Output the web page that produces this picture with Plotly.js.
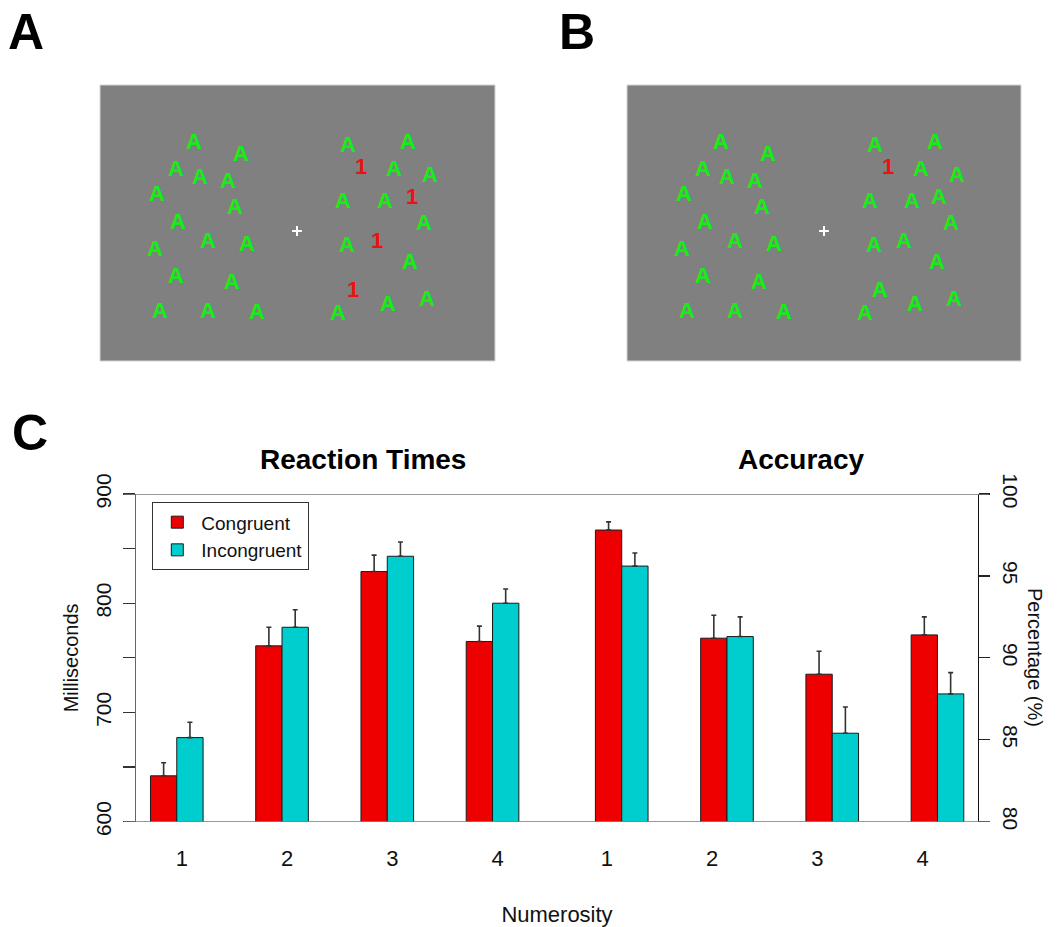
<!DOCTYPE html>
<html><head><meta charset="utf-8">
<script src="https://cdn.plot.ly/plotly-3.0.1.min.js"></script>
<style>html,body{margin:0;padding:0;background:#fff}#chart{width:1059px;height:927px}</style>
</head><body><div id="chart"></div>
<script>
// ---------------- data ----------------
const numerosity = ['1', '2', '3', '4'];
const conditionNames = ['Congruent', 'Incongruent'];

const rtCongruent      = [642, 761, 829, 765];
const rtCongruentSE    = [12, 17, 15, 14];
const rtIncongruent    = [677, 778, 843, 800];
const rtIncongruentSE  = [14, 16, 13, 13];

const accCongruent     = [97.8, 91.2, 89.0, 91.4];
const accCongruentSE   = [0.5, 1.4, 1.4, 1.1];
const accIncongruent   = [95.6, 91.3, 85.4, 87.8];
const accIncongruentSE = [0.8, 1.2, 1.6, 1.3];

const msTicks      = [600, 650, 700, 750, 800, 850, 900];
const msTickLabels = ['600', '', '700', '', '800', '', '900'];
const pctTicks     = [80, 85, 90, 95, 100];
const pctTickLabels = ['80', '85', '90', '95', '100'];

// stimulus displays (screen units of the 395 x 276 stimulus picture)
const leftSetX  = [94, 141, 76, 100, 128, 57, 135, 78, 55, 108, 147, 76, 132, 60, 108, 157];
const leftSetY  = [58, 70, 85, 93, 97, 110, 123, 138, 165, 157, 160, 192, 198, 227, 227, 228];
const leftSetLabels = ['A','A','A','A','A','A','A','A','A','A','A','A','A','A','A','A'];
const rightSetX = [248, 308, 261, 294, 330, 243, 285, 312, 324, 247, 277, 310, 253, 238, 288, 327];
const rightSetY = [61, 58, 83, 85, 91, 117, 117, 113, 139, 161, 157, 178, 206, 229, 220, 215];
const rightLabelsA = ['A','A','1','A','A','A','A','1','A','A','1','A','1','A','A','A'];
const rightLabelsB = ['A','A','1','A','A','A','A','A','A','A','A','A','A','A','A','A'];
const fixationX = [197];
const fixationY = [146];

// ---------------- layout helpers ----------------
const W = 1059, H = 927;
const fx = p => p / W;
const fy = p => 1 - p / H;
const FONT = 'Liberation Sans, Arial, Helvetica, sans-serif';
const RED = '#EE0000', CYAN = '#00CDCD';
const GREEN = '#14EE14', STIM_RED = '#EE1111';

// bar geometry in bar-width units along x
const leftCenter  = numerosity.map((_, i) => 1.55 + 4 * i);
const rightCenter = numerosity.map((_, i) => 18.46 + 4 * i);
const tickPos = numerosity.map((_, i) => 1.74 + 4 * i)
  .concat(numerosity.map((_, i) => 17.9 + 4 * i));

function barTrace(xs, ys, se, color, name, yaxis, showlegend) {
  return {
    type: 'bar', x: xs, y: ys, width: 1, name: name, yaxis: yaxis, xaxis: 'x',
    showlegend: showlegend, legendgroup: name,
    marker: {color: color, line: {color: '#1a1a1a', width: 1}},
    error_y: {type: 'data', symmetric: false, array: se, arrayminus: se.map(() => 0),
              color: '#333', thickness: 1.6, width: 2.5},
    hoverinfo: 'y+name'
  };
}

const traces = [
  barTrace(leftCenter.map(c => c - 0.5), rtCongruent, rtCongruentSE, RED, conditionNames[0], 'y', true),
  barTrace(leftCenter.map(c => c + 0.5), rtIncongruent, rtIncongruentSE, CYAN, conditionNames[1], 'y', true),
  barTrace(rightCenter.map(c => c - 0.5), accCongruent, accCongruentSE, RED, conditionNames[0], 'y2', false),
  barTrace(rightCenter.map(c => c + 0.5), accIncongruent, accIncongruentSE, CYAN, conditionNames[1], 'y2', false)
];

function stimText(xs, ys, labels, xa, ya) {
  return {
    type: 'scatter', mode: 'text', x: xs, y: ys, text: labels, xaxis: xa, yaxis: ya,
    showlegend: false, hoverinfo: 'skip', textposition: 'middle center',
    textfont: {family: FONT, size: 22, weight: 'bold',
               color: labels.map(l => l === '1' ? STIM_RED : GREEN)}
  };
}
function fixation(xa, ya) {
  return {type: 'scatter', mode: 'markers', x: fixationX, y: fixationY, xaxis: xa, yaxis: ya,
    showlegend: false, hoverinfo: 'skip',
    marker: {symbol: 'cross-thin', size: 7, line: {color: '#ffffff', width: 2}}};
}
traces.push(stimText(leftSetX, leftSetY, leftSetLabels, 'x3', 'y3'));
traces.push(stimText(rightSetX, rightSetY, rightLabelsA, 'x3', 'y3'));
traces.push(fixation('x3', 'y3'));
traces.push(stimText(leftSetX, leftSetY, leftSetLabels, 'x4', 'y4'));
traces.push(stimText(rightSetX, rightSetY, rightLabelsB, 'x4', 'y4'));
traces.push(fixation('x4', 'y4'));

const stimAxis = (dom, rng) => ({domain: dom, range: rng, visible: false, fixedrange: true});

const layout = {
  width: W, height: H,
  margin: {l: 0, r: 0, t: 0, b: 0},
  paper_bgcolor: '#ffffff', plot_bgcolor: 'rgba(0,0,0,0)',
  font: {family: FONT, color: '#111'},
  barmode: 'overlay',
  showlegend: true,
  legend: {x: fx(152.3), y: fy(502.3), xanchor: 'left', yanchor: 'top',
           bgcolor: '#ffffff', bordercolor: '#333', borderwidth: 1, itemwidth: 38,
           font: {family: FONT, size: 19, color: '#111'}, tracegroupgap: 0},
  xaxis: {domain: [fx(136), fx(978)], range: [0, 32], showgrid: false, zeroline: false,
          showline: false, ticks: '', tickmode: 'array', tickvals: tickPos,
          ticktext: numerosity.concat(numerosity), ticklabelstandoff: 21,
          tickfont: {family: FONT, size: 22, color: '#111'},
          title: {text: 'Numerosity', font: {family: FONT, size: 22, color: '#111'}, standoff: 38}},
  yaxis: {domain: [fy(821.7), fy(494)], range: [600, 900], showgrid: false, zeroline: false,
          showline: true, linecolor: '#666', linewidth: 1.3,
          ticks: 'outside', ticklen: 12, tickwidth: 1.3, tickcolor: '#333',
          tickmode: 'array', tickvals: msTicks, ticktext: msTickLabels, tickangle: -90,
          tickfont: {family: FONT, size: 21, color: '#111'}, ticklabelstandoff: 3,
          title: {text: 'Milliseconds', font: {family: FONT, size: 20, color: '#111'}, standoff: 8}},
  yaxis2: {overlaying: 'y', side: 'right', anchor: 'x', range: [80, 100], showgrid: false,
           zeroline: false, showline: true, linecolor: '#111', linewidth: 1.3,
           ticks: 'outside', ticklen: 11, tickwidth: 1.3, tickcolor: '#222',
           tickmode: 'array', tickvals: pctTicks, ticktext: pctTickLabels, tickangle: 90,
           tickfont: {family: FONT, size: 21, color: '#111'}, ticklabelstandoff: 4},
  xaxis3: stimAxis([fx(100), fx(495)], [0, 395]),
  yaxis3: Object.assign(stimAxis([fy(361), fy(85)], [276, 0]), {anchor: 'x3'}),
  xaxis4: stimAxis([fx(627), fx(1021)], [0, 394]),
  yaxis4: Object.assign(stimAxis([fy(361), fy(85)], [276, 0]), {anchor: 'x4'}),
  shapes: [
    {type: 'rect', xref: 'x3 domain', yref: 'y3 domain', x0: 0, x1: 1, y0: 0, y1: 1,
     fillcolor: '#808080', line: {color: '#d4d4d4', width: 1}, layer: 'below'},
    {type: 'rect', xref: 'x4 domain', yref: 'y4 domain', x0: 0, x1: 1, y0: 0, y1: 1,
     fillcolor: '#808080', line: {color: '#d4d4d4', width: 1}, layer: 'below'},
    {type: 'line', xref: 'paper', yref: 'y', x0: fx(124), x1: fx(989), y0: 900, y1: 900,
     line: {color: '#777', width: 1.3}},
    {type: 'line', xref: 'paper', yref: 'y', x0: fx(124), x1: fx(990), y0: 600, y1: 600,
     line: {color: '#777', width: 1.3}}
  ],
  annotations: [
    {text: '<b>A</b>', xref: 'paper', yref: 'paper', x: fx(26), y: fy(32), showarrow: false,
     xanchor: 'center', yanchor: 'middle', font: {family: FONT, size: 50, color: '#000'}},
    {text: '<b>B</b>', xref: 'paper', yref: 'paper', x: fx(577), y: fy(32), showarrow: false,
     xanchor: 'center', yanchor: 'middle', font: {family: FONT, size: 50, color: '#000'}},
    {text: '<b>C</b>', xref: 'paper', yref: 'paper', x: fx(30), y: fy(433), showarrow: false,
     xanchor: 'center', yanchor: 'middle', font: {family: FONT, size: 50, color: '#000'}},
    {text: '<b>Reaction Times</b>', xref: 'paper', yref: 'paper', x: fx(363), y: fy(459),
     showarrow: false, xanchor: 'center', yanchor: 'middle', font: {family: FONT, size: 28, color: '#000'}},
    {text: '<b>Accuracy</b>', xref: 'paper', yref: 'paper', x: fx(801), y: fy(459),
     showarrow: false, xanchor: 'center', yanchor: 'middle', font: {family: FONT, size: 28, color: '#000'}},
    {text: 'Percentage (%)', xref: 'paper', yref: 'paper', x: fx(1035), y: fy(657), textangle: 90,
     showarrow: false, xanchor: 'center', yanchor: 'middle', font: {family: FONT, size: 20, color: '#111'}}
  ]
};

Plotly.newPlot('chart', traces, layout, {displayModeBar: false, staticPlot: true});
</script>
</body></html>
